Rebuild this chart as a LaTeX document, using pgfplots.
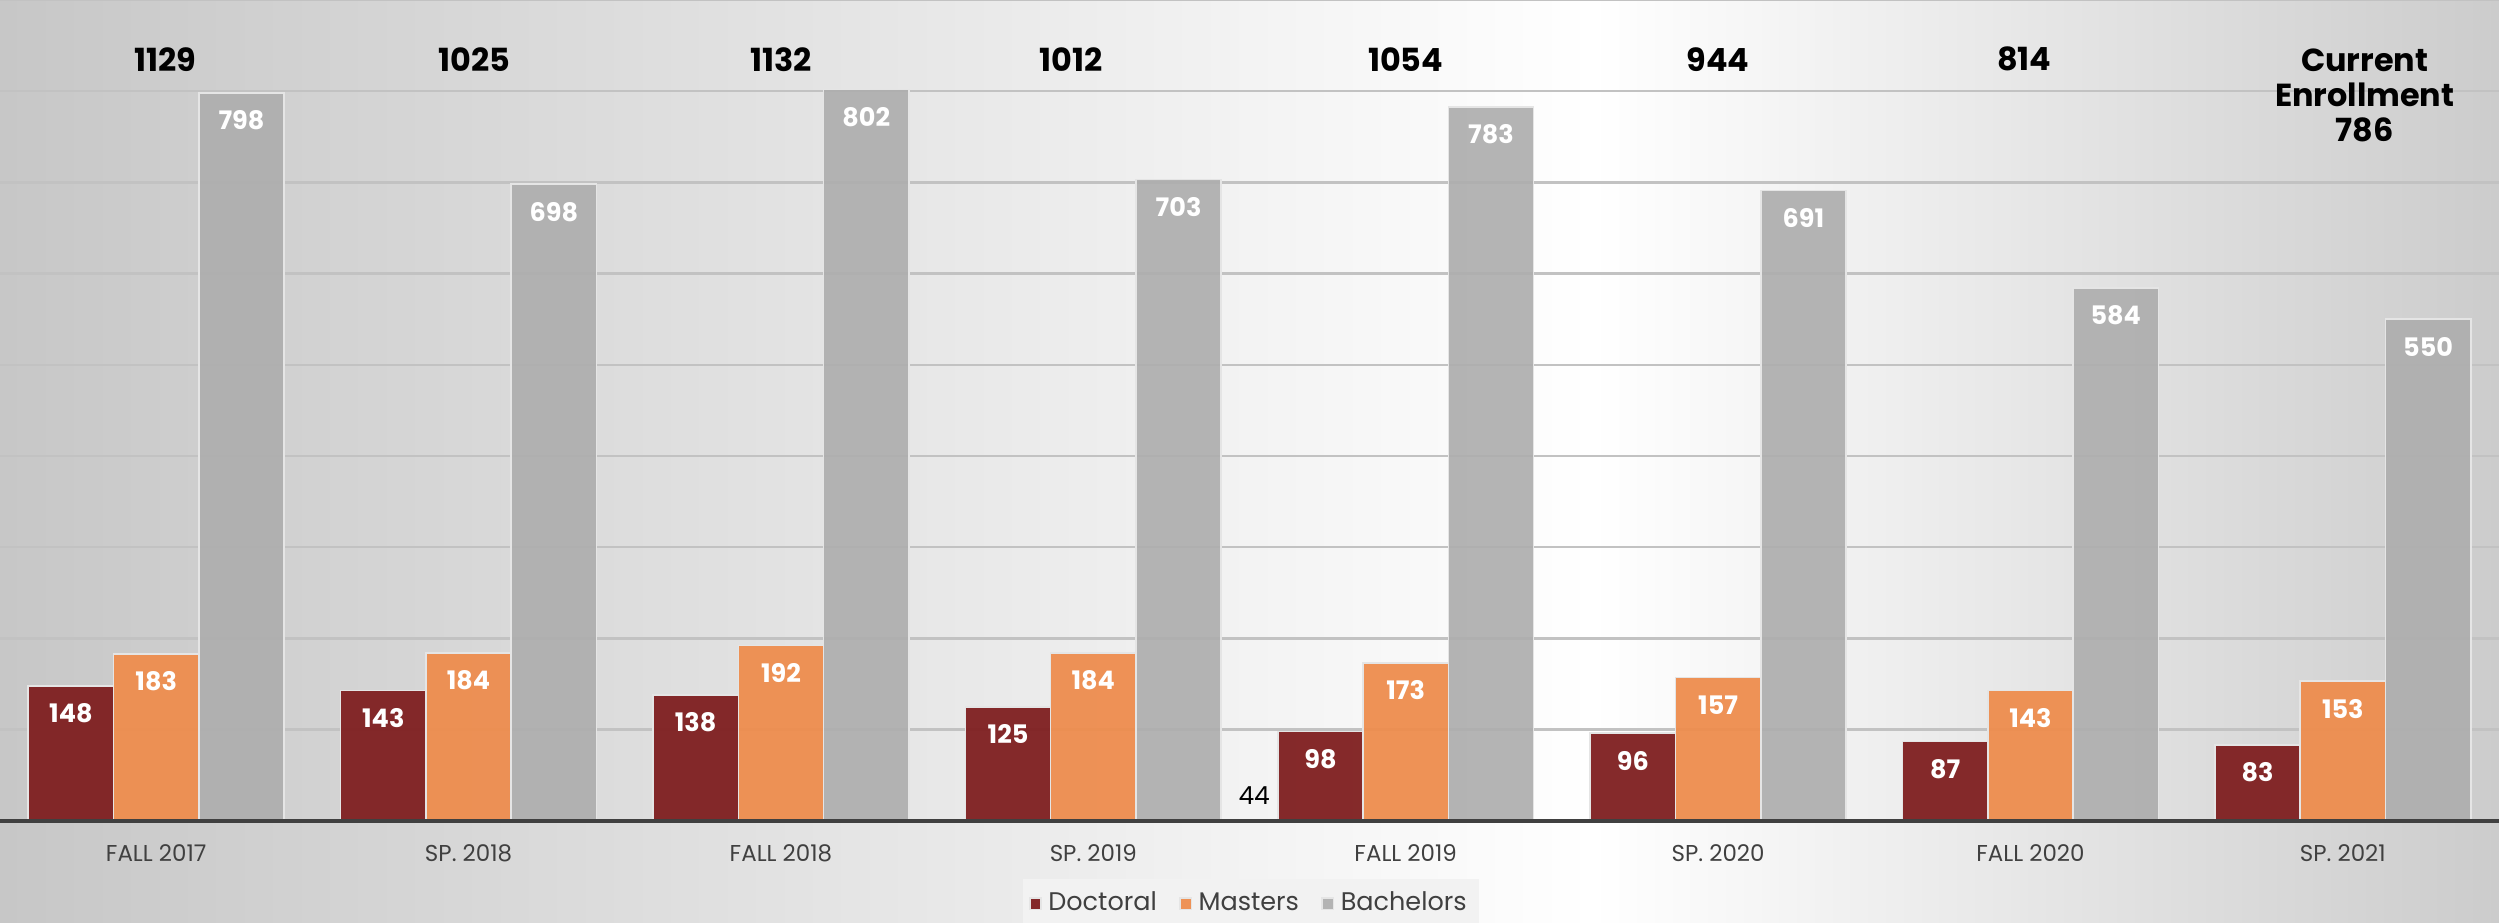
\documentclass[border=0pt]{standalone}
\usepackage{pgfplots}
\pgfplotsset{compat=1.18}
\usepackage{fontspec}
\setmainfont{Poppins}
\definecolor{doc}{HTML}{7F1F20}
\definecolor{mas}{HTML}{EE8D4E}
\definecolor{bac}{HTML}{AEAEAE}
\definecolor{gridc}{HTML}{C2C2C2}
\definecolor{axisc}{HTML}{404040}
\begin{document}
\begin{tikzpicture}
\shade[left color=gray!44, right color=white] (0,-32pt) rectangle (500pt,257.5pt);
\shade[left color=white, right color=gray!40] (499.5pt,-32pt) rectangle (784pt,257.5pt);
\begin{axis}[
  at={(0,0)}, anchor=south west,
  width=784pt, height=257.5pt, scale only axis,
  xmin=-0.5, xmax=7.5, ymin=0, ymax=900,
  ybar=0pt, bar width=26.75pt,
  axis line style={draw=none},
  major tick length=0pt,
  /pgf/number format/assume math mode=true,
  ytick={100,200,...,900}, yticklabels={},
  ymajorgrids, grid style={gridc, line width=0.8pt},
  xtick={0,...,7},
  xticklabels={FALL 2017, SP. 2018, FALL 2018, SP. 2019, FALL 2019, SP. 2020, FALL 2020, SP. 2021},
  xticklabel style={font=\fontsize{7.2}{8}\selectfont, text=axisc, anchor=north, yshift=-4pt},
  clip=false,
  legend style={at={(0.5006,-0.101)}, anchor=center, legend columns=3, fill=gray!10, draw=none,
    font=\fontsize{8}{9}\selectfont, text=axisc, inner sep=2pt,
    /tikz/every even column/.append style={column sep=5pt}},
  legend image code/.code={\fill[#1] (0pt,-1.8pt) rectangle (3.6pt,1.8pt);},
  nodes near coords={\pgfmathprintnumber[assume math mode=true]{\pgfplotspointmeta}},
  nodes near coords style={anchor=north, text=white, font=\bfseries\fontsize{8}{9}\selectfont, yshift=-2pt},
]
\addplot[fill=doc, draw=white!80!gray, line width=0.5pt, fill opacity=0.95, text opacity=1] coordinates {(0,148) (1,143) (2,138) (3,125) (4,98) (5,96) (6,87) (7,83)};
\addplot[fill=mas, draw=white!80!gray, line width=0.5pt, fill opacity=0.95, text opacity=1] coordinates {(0,183) (1,184) (2,192) (3,184) (4,173) (5,157) (6,143) (7,153)};
\addplot[fill=bac, draw=white!80!gray, line width=0.5pt, fill opacity=0.92, text opacity=1] coordinates {(0,798) (1,698) (2,802) (3,703) (4,783) (5,691) (6,584) (7,550)};
\legend{Doctoral, Masters, Bachelors}
\draw[axisc, line width=1.3pt] (axis cs:-0.5,0) -- (axis cs:7.5,0);
\begin{scope}[every node/.style={font=\bfseries\fontsize{10}{11}\selectfont, text=black}]
\node at (axis cs:0.03,835) {1129};
\node at (axis cs:1.02,835) {1025};
\node at (axis cs:2.0,835) {1132};
\node at (axis cs:2.93,835) {1012};
\node at (axis cs:4.0,835) {1054};
\node at (axis cs:5.0,835) {944};
\node at (axis cs:5.98,835) {814};
\node[align=center] at (axis cs:7.07,795) {Current\\Enrollment\\786};
\end{scope}
\node[font=\fontsize{7.8}{9}\selectfont, text=black] at (axis cs:3.515,28) {44};
\end{axis}
\pgfresetboundingbox
\path[use as bounding box] (0,-32pt) rectangle (784pt,257.5pt);
\end{tikzpicture}
\end{document}
